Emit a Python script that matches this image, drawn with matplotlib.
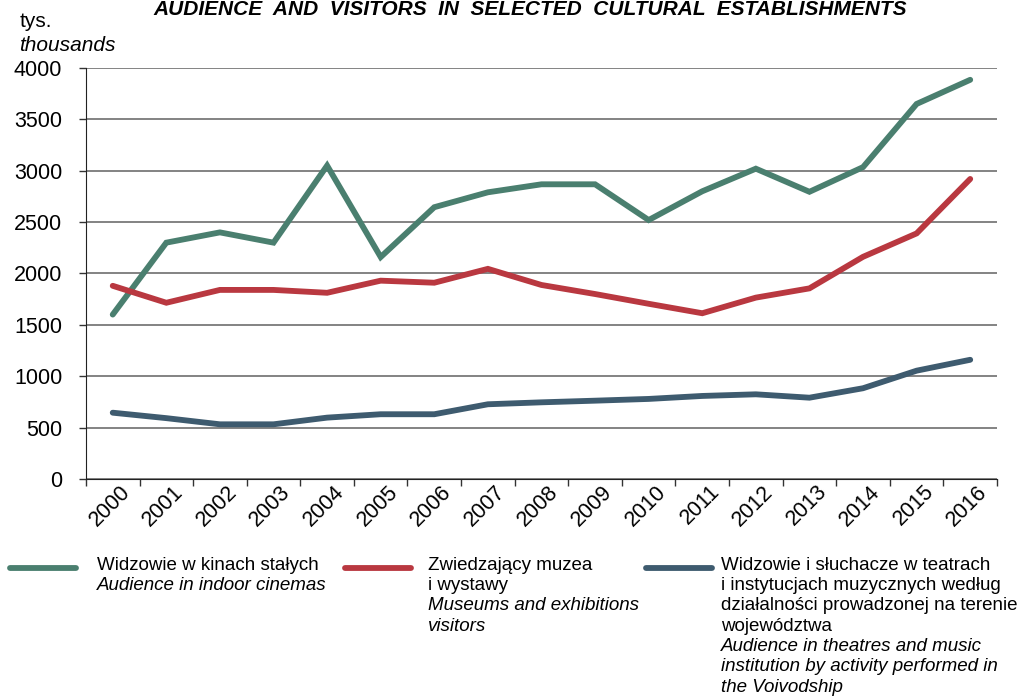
import matplotlib
matplotlib.use('Agg')
import matplotlib.pyplot as plt
import matplotlib.transforms as mtransforms
from matplotlib.lines import Line2D
import numpy as np

plt.rcParams['font.family'] = ['Liberation Sans', 'DejaVu Sans']

years = [str(y) for y in range(2000, 2017)]
cinemas = [1600, 2300, 2400, 2300, 3050, 2160, 2645, 2790, 2868, 2868,
           2520, 2800, 3020, 2795, 3035, 3650, 3885]
museums = [1880, 1715, 1840, 1840, 1812, 1930, 1910, 2045, 1888, 1800,
           1705, 1613, 1765, 1855, 2162, 2390, 2920]
theatres = [645, 592, 532, 532, 597, 630, 630, 727, 746, 762,
            779, 808, 824, 791, 883, 1054, 1160]

green = '#4a7f6f'
red = '#b93840'
blue = '#3e5b6f'

fig = plt.figure(figsize=(10.23, 6.98), dpi=100)
ax = fig.add_axes([0.084, 0.3138, 0.8906, 0.5888])

x = np.arange(len(years))
for vals, c in [(cinemas, green), (museums, red), (theatres, blue)]:
    ax.plot(x, vals, color=c, lw=4.2, solid_capstyle='round',
            solid_joinstyle='miter', zorder=3)

ax.set_xlim(-0.5, len(years) - 0.5)
ax.set_ylim(0, 4000)
ax.set_yticks(range(0, 4001, 500))
ax.yaxis.grid(True, color='#7a7a7a', lw=1.3)
ax.set_axisbelow(True)

ax.set_xticks(x)
ax.set_xticklabels(years, rotation=45, ha='right', va='center', rotation_mode='anchor')
ax.set_xticks(np.arange(-0.5, len(years)), minor=True)
ax.tick_params(axis='x', which='major', length=0, pad=7, labelsize=15.5)
ax.tick_params(axis='x', which='minor', length=5, width=1, color='#333333')
ax.tick_params(axis='y', length=5, width=1, color='#333333', labelsize=15.5, pad=12)

shift = mtransforms.ScaledTranslation(0.14, 0, fig.dpi_scale_trans)
for lab in ax.get_xticklabels():
    lab.set_transform(lab.get_transform() + shift)

for s in ['top', 'right']:
    ax.spines[s].set_visible(False)
ax.spines['left'].set_color('#222222')
ax.spines['bottom'].set_color('#222222')

fig.text(0.518, 1 - 15 / 698, 'AUDIENCE  AND  VISITORS  IN  SELECTED  CULTURAL  ESTABLISHMENTS',
         ha='center', va='baseline', fontsize=15, fontweight='bold', fontstyle='italic')
fig.text(0.019, 1 - 27 / 698, 'tys.', fontsize=15, va='baseline')
fig.text(0.019, 1 - 51 / 698, 'thousands', fontsize=15, va='baseline', fontstyle='italic')

# legend drawn by hand: three columns
legend = [
    (green, 10, 97, ['Widzowie w kinach stałych'], ['Audience in indoor cinemas']),
    (red, 345, 428, ['Zwiedzający muzea', 'i wystawy'],
     ['Museums and exhibitions', 'visitors']),
    (blue, 646, 721, ['Widzowie i słuchacze w teatrach',
                      'i instytucjach muzycznych według',
                      'działalności prowadzonej na terenie',
                      'województwa'],
     ['Audience in theatres and music',
      'institution by activity performed in',
      'the Voivodship']),
]
W, H = 1023, 698
for color, x0, tx, pl, en in legend:
    fig.add_artist(Line2D([x0 / W, (x0 + 66) / W], [1 - 568 / H, 1 - 568 / H],
                          color=color, lw=4.2, solid_capstyle='round'))
    yy = 565
    for line in pl:
        fig.text(tx / W, 1 - yy / H, line, fontsize=13.5, va='center')
        yy += 20.4
    for line in en:
        fig.text(tx / W, 1 - yy / H, line, fontsize=13.5, va='center', fontstyle='italic')
        yy += 20.4

fig.savefig('out.png', dpi=100)
